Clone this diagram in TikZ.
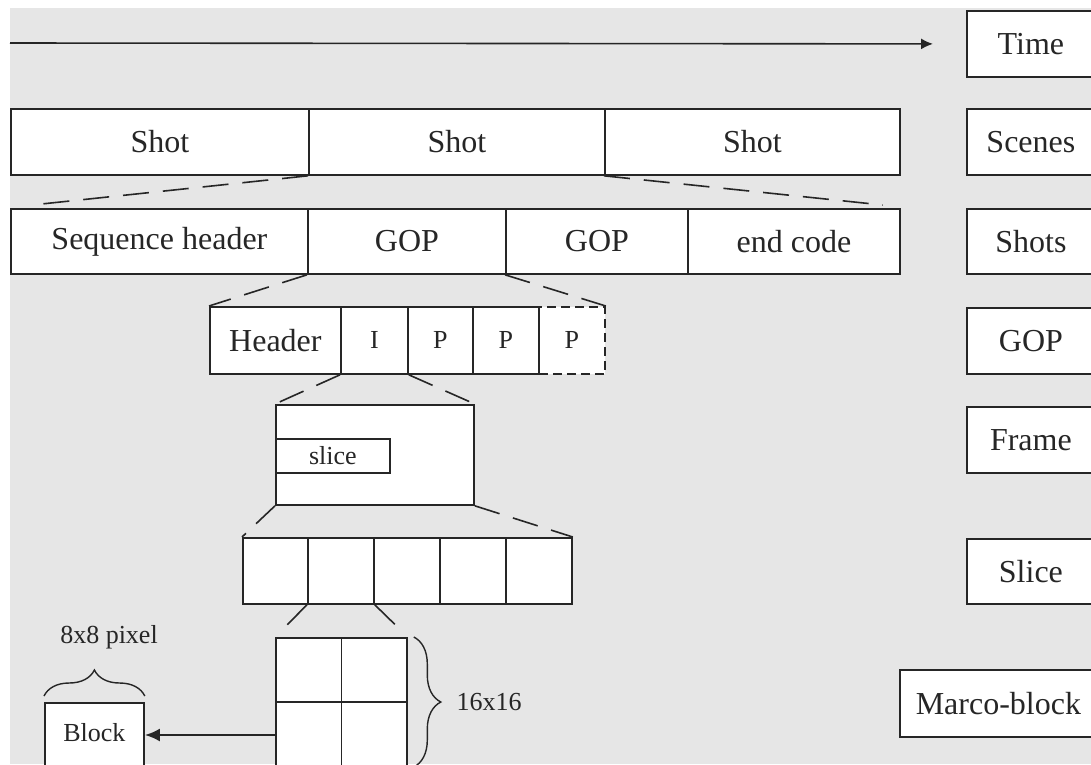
\documentclass[tikz,border=0pt]{standalone}
\usepackage{fontspec}
\setmainfont{Liberation Serif}
\usetikzlibrary{decorations.pathreplacing,arrows.meta,calc}
\definecolor{bg}{HTML}{E6E6E6}
\definecolor{ink}{HTML}{262626}

\begin{document}
\begin{tikzpicture}[x=1pt,y=-1pt,
  box/.style={draw=ink, fill=white, line width=1.8pt, inner sep=0pt, anchor=north west,
              font=\fontsize{32}{38}\selectfont, text=ink},
  small/.style={font=\fontsize{26}{31}\selectfont, text=ink},
  zoomline/.style={draw=ink, line width=1.6pt, dash pattern=on 26pt off 14pt},
  shortline/.style={draw=ink, line width=1.6pt, dash pattern=on 28pt off 40pt},
  bracestyle/.style={draw=ink, line width=1.4pt, decorate},
]
\useasboundingbox (0,0) rectangle (1091,764);
\clip (0,0) rectangle (1091,764);
\fill[white] (0,0) rectangle (1091,764);
\fill[bg] (10,8) rectangle (1091,764);

% legend column on the right
\node[box, minimum width=128, minimum height=66] (time)   at (966,10)  {Time};
\node[box, minimum width=128, minimum height=66] (scenes) at (966,108) {Scenes};
\node[box, minimum width=128, minimum height=65] (shots)  at (966,208) {Shots};
\node[box, minimum width=128, minimum height=66] (gopl)   at (966,307) {GOP};
\node[box, minimum width=128, minimum height=66] (framel) at (966,406) {Frame};
\node[box, minimum width=128, minimum height=65] (slicel) at (966,538) {Slice};
\node[box, minimum width=197, minimum height=67] (mbl)    at (899,669) {Marco-block};

% time axis
\coordinate (tstart) at (10,43);
\draw[ink, line width=1.6pt, -{Latex[length=12pt,width=11pt]}] (tstart) -- ($(time.west)+(-33,0)$);

% scene level
\node[box, minimum width=298, minimum height=66] (shot1) at (10,108)  {Shot};
\node[box, minimum width=296, minimum height=66] (shot2) at (308,108) {Shot};
\node[box, minimum width=295, minimum height=66] (shot3) at (604,108) {Shot};

% shot level
\node[box, minimum width=297, minimum height=65] (seq)  at (10,208)  {Sequence header};
\node[box, minimum width=198, minimum height=65] (gop1) at (307,208) {GOP};
\node[box, minimum width=182, minimum height=65] (gop2) at (505,208) {GOP};
\node[box, minimum width=212, minimum height=65] (endc) at (687,208) {end code};

% GOP level
\node[box, minimum width=131, minimum height=67] (hdr) at (209,306) {Header};
\node[box, small, minimum width=67, minimum height=67] (fi) at (340,306) {I};
\node[box, small, minimum width=66, minimum height=67, dash pattern=on 9pt off 5pt] (fp3) at (538,306) {P};
\node[box, small, minimum width=65, minimum height=67] (fp1) at (407,306) {P};
\node[box, small, minimum width=66, minimum height=67] (fp2) at (472,306) {P};

% frame level
\node[box, minimum width=198, minimum height=100] (frame) at (275,404) {};
\node[box, small, minimum width=114, minimum height=34] (slice) at (275,438) {slice};

% slice level
\node[box, minimum width=65, minimum height=66] (s1) at (242,537) {};
\node[box, minimum width=66, minimum height=66] (s2) at (307,537) {};
\node[box, minimum width=66, minimum height=66] (s3) at (373,537) {};
\node[box, minimum width=66, minimum height=66] (s4) at (439,537) {};
\node[box, minimum width=66, minimum height=66] (s5) at (505,537) {};

% macroblock and block
\node[box, minimum width=131, minimum height=150] (mb) at (275,637) {};
\draw[ink, line width=1.8pt] (mb.north) -- (mb.south);
\draw[ink, line width=1.8pt] ($(mb.north west)+(0,65)$) -- ($(mb.north east)+(0,65)$);

\node[box, minimum width=99, minimum height=90] (block) at (44,702) {};
\node[small] (blk) at ($(block.north)+(0,31)$) {Block};
\draw[ink, line width=2.4pt, -{Latex[length=15pt,width=13pt]}] ($(mb.north west)+(0,98)$) -- (block.east |- 0,735);

\draw[bracestyle, decoration={brace, amplitude=26pt}] ($(block.north west)+(0,-6)$) -- ($(block.north east)+(0,-6)$);
\node[small] (pix) at (109,637) {8x8 pixel};

\draw[bracestyle, decoration={brace, amplitude=27pt}] ($(mb.north east)+(6,0)$) -- ($(mb.north east)+(6,130)$);
\node[small, anchor=west] (mbsize) at (453,702) {16x16};

% zoom connectors between levels
\draw[zoomline] (shot2.south west) -- ($(seq.north west)+(22,-3)$);
\draw[zoomline] (shot3.south west) -- ($(endc.north east)+(-18,-3)$);
\draw[zoomline] (gop1.south west) -- (hdr.north west);
\draw[zoomline] (gop2.south west) -- (fp3.north east);
\draw[zoomline] (fi.south west) -- (frame.north west);
\draw[zoomline] (fi.south east) -- (frame.north east);
\draw[zoomline] (frame.south west) -- (s1.north west);
\draw[zoomline] (frame.south east) -- (s5.north east);
\draw[shortline] (s2.south west) -- (mb.north west);
\draw[shortline] (s2.south east) -- (mb.north east);
\end{tikzpicture}
\end{document}
